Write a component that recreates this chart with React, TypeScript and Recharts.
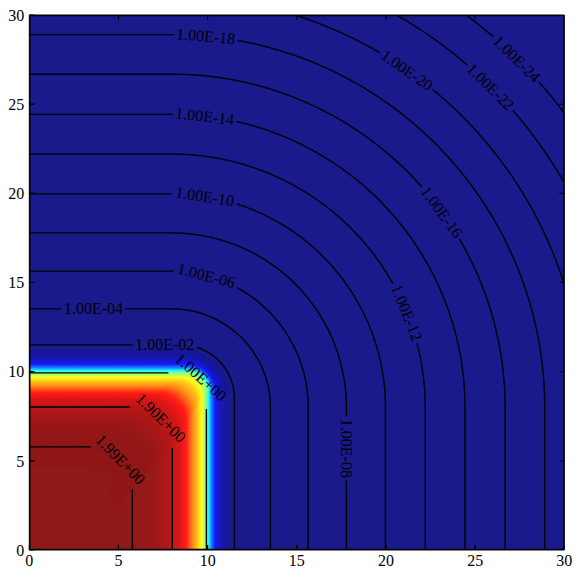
import React from 'react';
import { ComposedChart, Area, Line, Scatter, XAxis, YAxis } from 'recharts';

const axisTicks = [0, 5, 10, 15, 20, 25, 30];

// contour levels: where each line meets the axes and the centre of its rounded corner
const levelLabels = [
    '1.99E+00', '1.90E+00', '1.00E+00', '1.00E-02', '1.00E-04', '1.00E-06', '1.00E-08', '1.00E-10',
    '1.00E-12', '1.00E-14', '1.00E-16', '1.00E-18', '1.00E-20', '1.00E-22', '1.00E-24',
];
const levelEdge = [5.78, 8.02, 9.93, 11.5, 13.52, 15.64, 17.78, 19.97, 22.2, 24.43, 26.68, 28.9, 31.05, 33.35, 35.5];
const levelCorner = [3.46, 5.9, 9.0, 8.5, 8.0, 8.0, 8.0, 8.0, 8.0, 8.0, 8.0, 8.0, 8.0, 8.0, 8.0];

// where the inline labels sit
const labelX = [5.13, 7.45, 9.6, 7.61, 3.6, 9.94, 17.8, 9.85, 21.21, 9.85, 22.9, 9.9, 21.17, 25.8, 27.3];
const labelY = [5.07, 7.5, 9.7, 11.51, 13.52, 15.45, 5.7, 19.81, 13.32, 24.2, 18.79, 28.6, 26.92, 25.93, 27.54];

// field value along the bottom edge (y = 0)
const profileX = [0, 5.78, 7.0, 8.02, 8.5, 8.85, 9.2, 9.45, 9.67, 9.93, 10.05, 10.17, 10.3, 10.45, 10.7, 11.0, 11.5];
const profileValue = [2.0, 1.99, 1.97, 1.9, 1.82, 1.72, 1.5, 1.38, 1.26, 1.0, 0.8, 0.58, 0.4, 0.24, 0.1, 0.04, 0.01];

const PX = 535 / 30;
const TICK = 5 / PX;

function interp(xs: number[], ys: number[], v: number) {
    if (v <= xs[0]) return ys[0];
    for (let i = 1; i < xs.length; i++) {
        if (v <= xs[i]) return ys[i - 1] + ((ys[i] - ys[i - 1]) * (v - xs[i - 1])) / (xs[i] - xs[i - 1]);
    }
    return ys[ys.length - 1];
}

// jet colormap, slightly washed out
function jet(t: number) {
    const cl = (v: number) => Math.max(0, Math.min(1, v));
    const r = cl(Math.min(4 * t - 1.5, -4 * t + 4.5));
    const g = cl(Math.min(4 * t - 0.5, -4 * t + 3.5));
    const b = cl(Math.min(4 * t + 0.5, -4 * t + 2.5));
    const c = (v: number) => Math.round(255 * (0.9 * v + 0.1));
    return `rgb(${c(r)},${c(g)},${c(b)})`;
}

// top edge + rounded corner of a level set (x increasing)
function cornerShape(edge: number, corner: number, step: number) {
    const r = edge - corner;
    const pts: { x: number; y: number | null }[] = [];
    for (let x = 0; x < corner; x += step) pts.push({ x, y: edge });
    const n = Math.max(12, Math.ceil((r * Math.PI) / 2 / step));
    for (let i = 0; i <= n; i++) {
        const t = (Math.PI / 2) * (1 - i / n);
        pts.push({ x: corner + r * Math.cos(t), y: corner + r * Math.sin(t) });
    }
    return pts;
}

function cornerAt(e: number) {
    if (e < levelEdge[0]) return Math.max(0, e - (levelEdge[0] - levelCorner[0]));
    return interp(levelEdge.slice(0, 4), levelCorner.slice(0, 4), e);
}

const bandEdges: number[] = [];
for (let e = 11.2; e >= 4.6; e -= 0.05) bandEdges.push(Number(e.toFixed(2)));
const bands = bandEdges.map(e => ({
    color: jet(interp(profileX, profileValue, e) / 2),
    pts: cornerShape(e, cornerAt(e), 0.05),
}));

const contours = levelEdge.map((edge, i) => {
    const pts = cornerShape(edge, levelCorner[i], 0.05);
    for (let y = levelCorner[i] - 0.05; y > 0; y -= 0.05) pts.push({ x: edge, y });
    pts.push({ x: edge, y: 0 });

    let best = 0;
    let bd = Infinity;
    pts.forEach((p, j) => {
        const d = (p.x - labelX[i]) ** 2 + ((p.y as number) - labelY[i]) ** 2;
        if (d < bd) { bd = d; best = j; }
    });
    const p = pts[best] as { x: number; y: number };
    const a = pts[Math.max(0, best - 3)] as { x: number; y: number };
    const b = pts[Math.min(pts.length - 1, best + 3)] as { x: number; y: number };
    const angle = (Math.atan2(-(b.y - a.y), b.x - a.x) * 180) / Math.PI;
    const gap = 32 / PX;
    const line = pts.map(q => (Math.hypot(q.x - p.x, (q.y as number) - p.y) < gap ? { x: q.x, y: null } : q));
    return { line, label: { x: p.x, y: p.y, text: levelLabels[i], angle } };
});

const labelData = contours.map(c => c.label);

// inward tick marks on all four sides
const tickMarks = axisTicks.slice(1, -1).flatMap(v => [
    [{ x: v, y: 0 }, { x: v, y: TICK }],
    [{ x: v, y: 30 }, { x: v, y: 30 - TICK }],
    [{ x: 0, y: v }, { x: TICK, y: v }],
    [{ x: 30, y: v }, { x: 30 - TICK, y: v }],
]);
const frame = [{ x: 0, y: 0 }, { x: 0, y: 30 }, { x: 30, y: 30 }, { x: 30, y: 0 }, { x: 0, y: 0 }];

const renderLabel = (props: any) => {
    const { cx, cy } = props;
    const d = props.payload ?? props;
    return (
        <text
            x={cx}
            y={cy}
            transform={`rotate(${d.angle} ${cx} ${cy})`}
            textAnchor="middle"
            dominantBaseline="central"
            fontSize={16}
            fontFamily="Liberation Serif"
            fill="#000"
        >
            {d.text}
        </text>
    );
};

const tickStyle = { fill: '#000', fontSize: 16, fontFamily: 'Liberation Serif' };

export default function App() {
    return (
        <div style={{ position: 'absolute', left: 0, top: 0 }}>
            <ComposedChart width={581} height={577} margin={{ top: 14, right: 15.7, bottom: 0, left: 0 }}>
                <XAxis
                    type="number"
                    dataKey="x"
                    domain={[0, 30]}
                    ticks={axisTicks}
                    interval={0}
                    allowDataOverflow
                    height={27}
                    tickSize={-5}
                    tickMargin={10}
                    tick={tickStyle}
                    stroke="#000"
                />
                <XAxis
                    xAxisId="top"
                    orientation="top"
                    type="number"
                    domain={[0, 30]}
                    ticks={axisTicks}
                    interval={0}
                    height={1}
                    tickSize={-5}
                    tick={false}
                    stroke="#000"
                />
                <YAxis
                    type="number"
                    dataKey="y"
                    domain={[0, 30]}
                    ticks={axisTicks}
                    interval={0}
                    allowDataOverflow
                    width={29.3}
                    tickSize={-5}
                    tickMargin={10}
                    tick={tickStyle}
                    stroke="#000"
                />
                <YAxis
                    yAxisId="right"
                    orientation="right"
                    type="number"
                    domain={[0, 30]}
                    ticks={axisTicks}
                    interval={0}
                    width={1}
                    tickSize={-5}
                    tick={false}
                    stroke="#000"
                />
                <Area
                    data={[{ x: 0, y: 30 }, { x: 30, y: 30 }]}
                    dataKey="y"
                    type="linear"
                    fill={jet(0)}
                    fillOpacity={1}
                    stroke="none"
                    dot={false}
                    activeDot={false}
                    isAnimationActive={false}
                />
                {bands.map((b, i) => (
                    <Area
                        key={`band-${i}`}
                        data={b.pts}
                        dataKey="y"
                        type="linear"
                        fill={b.color}
                        fillOpacity={1}
                        stroke={b.color}
                        strokeWidth={0.6}
                        dot={false}
                        activeDot={false}
                        isAnimationActive={false}
                    />
                ))}
                {contours.map((c, i) => (
                    <Line
                        key={`level-${i}`}
                        data={c.line}
                        dataKey="y"
                        type="linear"
                        stroke="#000"
                        strokeWidth={1.4}
                        dot={false}
                        activeDot={false}
                        isAnimationActive={false}
                    />
                ))}
                {tickMarks.map((t, i) => (
                    <Line
                        key={`tick-${i}`}
                        data={t}
                        dataKey="y"
                        type="linear"
                        stroke="#000"
                        strokeWidth={1}
                        dot={false}
                        activeDot={false}
                        isAnimationActive={false}
                    />
                ))}
                <Line
                    data={frame}
                    dataKey="y"
                    type="linear"
                    stroke="#000"
                    strokeWidth={2.4}
                    dot={false}
                    activeDot={false}
                    isAnimationActive={false}
                />
                <Scatter data={labelData} dataKey="y" shape={renderLabel} isAnimationActive={false} />
            </ComposedChart>
        </div>
    );
}
